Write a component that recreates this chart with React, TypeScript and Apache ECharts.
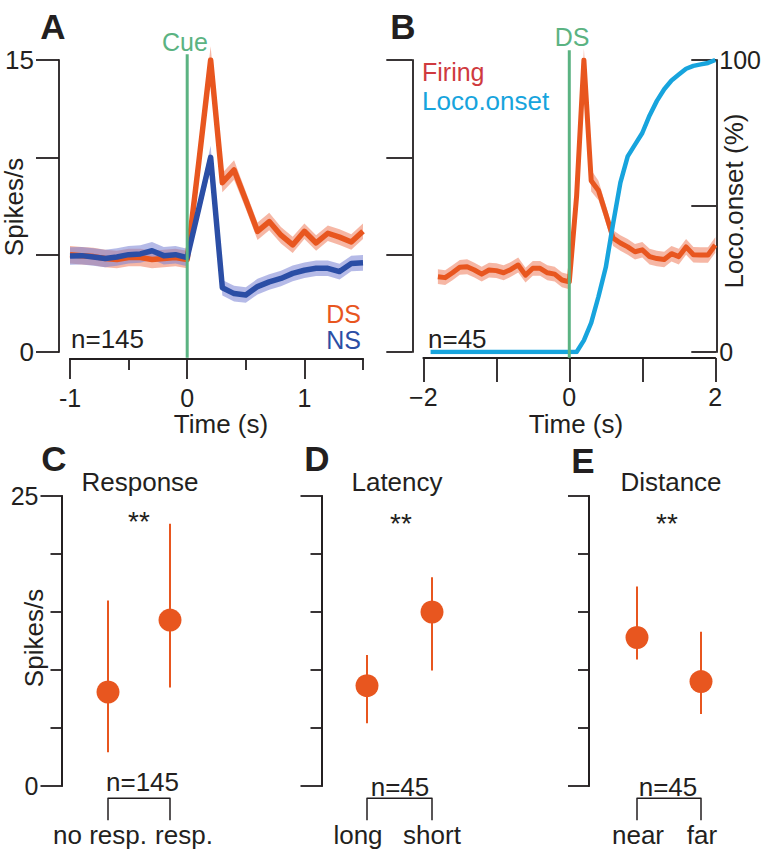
import React, { useEffect, useRef } from 'react';
import * as echarts from 'echarts';

const FONT = 'Liberation Sans, Arial, Helvetica, sans-serif';
const INK = '#231F20';
const ORANGE = '#E8561F';
const ORANGE_BAND = 'rgba(240,135,105,0.6)';
const BLUE = '#2B4EA5';
const BLUE_BAND = 'rgba(120,130,212,0.55)';
const GREEN = '#5BB382';
const CYAN = '#17A4DD';
const FIRING_RED = '#CF3A3E';

// ---- Panel A: DS vs NS firing (spikes/s) ----
const timeA = [-1, -0.9, -0.8, -0.7, -0.6, -0.5, -0.4, -0.3, -0.2, -0.1, 0, 0.1, 0.2, 0.3, 0.4, 0.5, 0.6, 0.7, 0.8, 0.9, 1.0, 1.1, 1.2, 1.3, 1.4, 1.5];
const dsA = [5.0, 4.95, 4.9, 4.8, 4.75, 4.85, 4.85, 4.75, 4.8, 4.85, 4.75, 9.8, 15.0, 8.7, 9.35, 7.8, 6.2, 6.7, 6.0, 5.5, 6.2, 5.6, 6.1, 5.9, 5.65, 6.2];
const dsSemA = [0.45, 0.45, 0.45, 0.45, 0.45, 0.45, 0.45, 0.45, 0.45, 0.45, 0.45, 0.5, 0.7, 0.5, 0.5, 0.45, 0.45, 0.45, 0.42, 0.42, 0.4, 0.4, 0.4, 0.4, 0.4, 0.4];
const nsA = [4.93, 4.95, 4.88, 4.8, 4.88, 5.0, 5.04, 5.2, 4.95, 5.0, 4.85, 7.4, 10.0, 3.3, 3.0, 2.93, 3.36, 3.6, 3.78, 4.04, 4.2, 4.3, 4.3, 4.13, 4.55, 4.58];
const nsSemA = [0.45, 0.45, 0.45, 0.45, 0.45, 0.45, 0.45, 0.45, 0.45, 0.45, 0.45, 0.45, 0.6, 0.4, 0.4, 0.4, 0.4, 0.4, 0.4, 0.4, 0.4, 0.4, 0.4, 0.4, 0.4, 0.4];
const xTicksMajorA = [-1, 0, 1];
const xTicksMinorA = [-0.5, 0.5, 1.5];
const yLabelsA = [0, 15];

// ---- Panel B: firing and locomotion onset ----
const timeB = [-1.8, -1.7, -1.6, -1.5, -1.4, -1.3, -1.2, -1.1, -1.0, -0.9, -0.8, -0.7, -0.6, -0.5, -0.4, -0.3, -0.2, -0.1, 0, 0.1, 0.2, 0.3, 0.4, 0.5, 0.6, 0.7, 0.8, 0.9, 1.0, 1.1, 1.2, 1.3, 1.4, 1.5, 1.6, 1.7, 1.8, 1.9, 2.0];
const firingB = [3.87, 3.82, 4.07, 4.35, 4.38, 4.21, 4.0, 4.21, 4.18, 4.07, 4.24, 4.47, 3.95, 4.3, 4.3, 4.07, 4.0, 3.7, 3.6, 8.0, 15.0, 8.8, 8.3, 7.1, 5.85, 5.6, 5.4, 5.15, 5.25, 4.9, 4.8, 4.75, 5.05, 4.9, 5.4, 5.0, 4.98, 4.98, 5.5];
const firingSemB = [0.38, 0.38, 0.38, 0.38, 0.38, 0.38, 0.38, 0.38, 0.38, 0.38, 0.38, 0.38, 0.38, 0.38, 0.38, 0.38, 0.38, 0.38, 0.38, 0.45, 0.6, 0.55, 0.5, 0.45, 0.4, 0.4, 0.4, 0.4, 0.4, 0.4, 0.4, 0.4, 0.4, 0.4, 0.4, 0.4, 0.4, 0.4, 0.4];
const locoTimes = [-1.9, 0.1, 0.2, 0.3, 0.4, 0.5, 0.6, 0.7, 0.8, 0.9, 1.0, 1.1, 1.2, 1.3, 1.4, 1.5, 1.6, 1.7, 1.8, 1.9, 2.0];
const locoPct = [0, 0, 4, 10, 19, 29, 44, 58, 67, 71, 75, 81, 86, 90, 93, 95, 97, 98, 98.5, 99, 100];
const xLabelsB = [-2, 0, 2];
const yRightLabelsB = [0, 100];

// ---- Panels C, D, E: mean and range (spikes/s) ----
const respCats = ['no resp.', 'resp.'];
const respMean = [8.1, 14.3];
const respLow = [2.9, 8.5];
const respHigh = [16.0, 22.6];
const latCats = ['long', 'short'];
const latMean = [8.65, 15.0];
const latLow = [5.4, 9.95];
const latHigh = [11.3, 18.0];
const distCats = ['near', 'far'];
const distMean = [12.8, 9.0];
const distLow = [10.9, 6.2];
const distHigh = [17.2, 13.3];
const yLabelsC = [0, 25];
const yEndTicks = [0, 25];
const yMidTicks = [5, 10, 15, 20];

const axisLine = { show: true, onZero: false, lineStyle: { color: INK, width: 1.8 } };
const tickStyle = { color: INK, width: 1.8 };
const labelStyle = { color: INK, fontSize: 25, fontFamily: FONT };

function bandSeries(t: number[], m: number[], s: number[], fill: string, xi: number, yi: number, z: number) {
  return {
    type: 'custom',
    xAxisIndex: xi,
    yAxisIndex: yi,
    silent: true,
    z,
    data: [[t[0], m[0]]],
    renderItem: (_p: any, api: any) => {
      const pts: number[][] = [];
      for (let i = 0; i < t.length; i++) pts.push(api.coord([t[i], m[i] + s[i]]));
      for (let i = t.length - 1; i >= 0; i--) pts.push(api.coord([t[i], m[i] - s[i]]));
      return { type: 'polygon', shape: { points: pts }, style: { fill } };
    },
  };
}

function lineSeries(data: number[][], color: string, width: number, xi: number, yi: number, z: number, clip = true) {
  return {
    type: 'line',
    xAxisIndex: xi,
    yAxisIndex: yi,
    data,
    symbol: 'none',
    showSymbol: false,
    silent: true,
    clip,
    z,
    lineStyle: { color, width, join: 'round' },
  };
}

function dotPanel(means: number[], lows: number[], highs: number[], xi: number, yi: number) {
  return [
    {
      type: 'custom',
      xAxisIndex: xi,
      yAxisIndex: yi,
      silent: true,
      z: 2,
      encode: { x: 0, y: [1, 2] },
      data: means.map((_m, i) => [i, lows[i], highs[i]]),
      renderItem: (_p: any, api: any) => {
        const a = api.coord([api.value(0), api.value(1)]);
        const b = api.coord([api.value(0), api.value(2)]);
        return { type: 'line', shape: { x1: a[0], y1: a[1], x2: b[0], y2: b[1] }, style: { stroke: ORANGE, lineWidth: 2 } };
      },
    },
    {
      type: 'scatter',
      xAxisIndex: xi,
      yAxisIndex: yi,
      silent: true,
      z: 3,
      symbolSize: 23,
      itemStyle: { color: ORANGE, opacity: 1 },
      data: means.map((m, i) => [i, m]),
    },
    lineSeries([[0, -2.95], [0, -1.05], [1, -1.05], [1, -2.95]], INK, 1.5, xi, yi, 3, false),
  ];
}

function dotYAxes(grid: number, labels: boolean) {
  return [
    {
      gridIndex: grid, type: 'value', min: 0, max: 25, position: 'left',
      axisLine, splitLine: { show: false },
      axisTick: { show: true, customValues: yEndTicks, length: 21, lineStyle: tickStyle },
      axisLabel: labels ? { show: true, customValues: yLabelsC, margin: 23, ...labelStyle } : { show: false },
    },
    {
      gridIndex: grid, type: 'value', min: 0, max: 25, position: 'left',
      axisLine, splitLine: { show: false },
      axisTick: { show: true, customValues: yMidTicks, length: 11, lineStyle: tickStyle },
      axisLabel: { show: false },
    },
  ];
}

function txt(text: string, x: number, y: number, o: any = {}) {
  return {
    type: 'text', x, y, rotation: o.rot || 0, silent: true, z: 100,
    style: {
      text, fill: o.color || INK, fontSize: o.size || 26, fontWeight: o.bold ? 'bold' : 'normal',
      fontFamily: FONT, align: o.align || 'center', verticalAlign: 'middle',
      lineHeight: o.lh || undefined,
    },
  };
}

export default function App() {
  const ref = useRef<HTMLDivElement>(null);
  useEffect(() => {
    document.body.style.margin = '0';
    if (!ref.current) return;
    const chart = echarts.init(ref.current, undefined, { renderer: 'svg' });
    const dsLine = timeA.map((t, i) => [t, dsA[i]]);
    const nsLine = timeA.map((t, i) => [t, nsA[i]]);
    const firingLine = timeB.map((t, i) => [t, firingB[i]]);
    const locoLine = locoTimes.map((t, i) => [t, locoPct[i]]);

    const option: any = {
      animation: false,
      backgroundColor: '#ffffff',
      grid: [
        { left: 70, top: 60, width: 293, height: 292 },
        { left: 423.3, top: 60, width: 293.7, height: 292 },
        { left: 61.5, top: 496, width: 155, height: 290 },
        { left: 321.5, top: 496, width: 156, height: 290 },
        { left: 589, top: 496, width: 160, height: 290 },
      ],
      xAxis: [
        {
          gridIndex: 0, type: 'value', min: -1, max: 1.5, position: 'bottom', offset: 7,
          axisLine, splitLine: { show: false },
          axisTick: { show: true, customValues: xTicksMajorA, length: 20, lineStyle: tickStyle },
          axisLabel: { show: true, customValues: xTicksMajorA, margin: 26, ...labelStyle },
        },
        {
          gridIndex: 0, type: 'value', min: -1, max: 1.5, position: 'bottom', offset: 7,
          axisLine, splitLine: { show: false },
          axisTick: { show: true, customValues: xTicksMinorA, length: 11, lineStyle: tickStyle },
          axisLabel: { show: false },
        },
        {
          gridIndex: 1, type: 'value', min: -2, max: 2, interval: 1, position: 'bottom', offset: 6,
          axisLine, splitLine: { show: false },
          axisTick: { show: true, length: 24, lineStyle: tickStyle },
          axisLabel: {
            show: true, customValues: xLabelsB, margin: 26, ...labelStyle,
            formatter: (v: number) => (v < 0 ? '\u2212' + Math.abs(v) : String(v)),
          },
        },
        { gridIndex: 2, type: 'value', min: -0.75, max: 1.75, show: false },
        { gridIndex: 3, type: 'value', min: -0.7, max: 1.7, show: false },
        { gridIndex: 4, type: 'value', min: -0.75, max: 1.75, show: false },
      ],
      yAxis: [
        {
          gridIndex: 0, type: 'value', min: 0, max: 15, interval: 5, position: 'left', offset: 11,
          axisLine, splitLine: { show: false },
          axisTick: { show: true, length: 23, lineStyle: tickStyle },
          axisLabel: { show: true, customValues: yLabelsA, margin: 25, ...labelStyle, fontSize: 26 },
        },
        {
          gridIndex: 1, type: 'value', min: 0, max: 15, interval: 5, position: 'left', offset: 11,
          axisLine, splitLine: { show: false },
          axisTick: { show: true, length: 26, lineStyle: tickStyle },
          axisLabel: { show: false },
        },
        {
          gridIndex: 1, type: 'value', min: 0, max: 100, interval: 50, position: 'right', offset: 1,
          axisLine, splitLine: { show: false },
          axisTick: { show: true, inside: true, length: 25, lineStyle: tickStyle },
          axisLabel: { show: true, customValues: yRightLabelsB, margin: 3, ...labelStyle },
        },
        ...dotYAxes(2, true),
        ...dotYAxes(3, false),
        ...dotYAxes(4, false),
      ],
      series: [
        bandSeries(timeA, dsA, dsSemA, ORANGE_BAND, 0, 0, 1),
        bandSeries(timeA, nsA, nsSemA, BLUE_BAND, 0, 0, 2),
        lineSeries(dsLine, ORANGE, 5.5, 0, 0, 3),
        lineSeries(nsLine, BLUE, 5.5, 0, 0, 4),
        lineSeries([[0, -0.3], [0, 15.3]], GREEN, 3, 0, 0, 6, false),

        bandSeries(timeB, firingB, firingSemB, ORANGE_BAND, 2, 1, 1),
        lineSeries(firingLine, ORANGE, 5, 2, 1, 3),
        lineSeries(locoLine, CYAN, 4.5, 2, 2, 4),
        lineSeries([[0, -0.3], [0, 15.5]], GREEN, 3, 2, 1, 6, false),

        ...dotPanel(respMean, respLow, respHigh, 3, 3),
        ...dotPanel(latMean, latLow, latHigh, 4, 5),
        ...dotPanel(distMean, distLow, distHigh, 5, 7),
      ],
      graphic: [
        txt('A', 53, 26, { bold: true, size: 35 }),
        txt('B', 403, 26, { bold: true, size: 35 }),
        txt('C', 54, 458, { bold: true, size: 35 }),
        txt('D', 317, 458, { bold: true, size: 35 }),
        txt('E', 583, 460, { bold: true, size: 35 }),
        txt('Cue', 185, 42, { color: GREEN, size: 25 }),
        txt('DS', 572, 37, { color: GREEN, size: 25 }),
        txt('Spikes/s', 14, 207, { rot: Math.PI / 2 }),
        txt('n=145', 71, 339, { align: 'left' }),
        txt('DS', 361, 314, { align: 'right', color: ORANGE, size: 25, lh: 20 }),
        txt('NS', 361, 340, { align: 'right', color: BLUE, size: 25, lh: 20 }),
        txt('Time (s)', 221, 424),
        txt('Time (s)', 576, 424),
        txt('Firing', 422, 72, { align: 'left', color: FIRING_RED, size: 25 }),
        txt('Loco.onset', 422, 101, { align: 'left', color: CYAN }),
        txt('n=45', 428, 339, { align: 'left' }),
        txt('Loco.onset (%)', 734, 201, { rot: Math.PI / 2 }),
        txt('Spikes/s', 34, 638, { rot: Math.PI / 2 }),
        txt('Response', 140, 482),
        txt('Latency', 397, 482),
        txt('Distance', 671, 482),
        txt('**', 139, 521, { size: 28 }),
        txt('**', 401, 523, { size: 28 }),
        txt('**', 667, 523, { size: 28 }),
        txt('n=145', 142.5, 782),
        txt('n=45', 400, 787),
        txt('n=45', 668, 787),
        txt(respCats[0], 100, 835),
        txt(respCats[1], 184, 835),
        txt(latCats[0], 358, 835),
        txt(latCats[1], 432, 835),
        txt(distCats[0], 638, 835),
        txt(distCats[1], 702, 835),
      ],
    };
    chart.setOption(option);
    return () => chart.dispose();
  }, []);
  return <div ref={ref} style={{ width: 764, height: 853 }} />;
}
